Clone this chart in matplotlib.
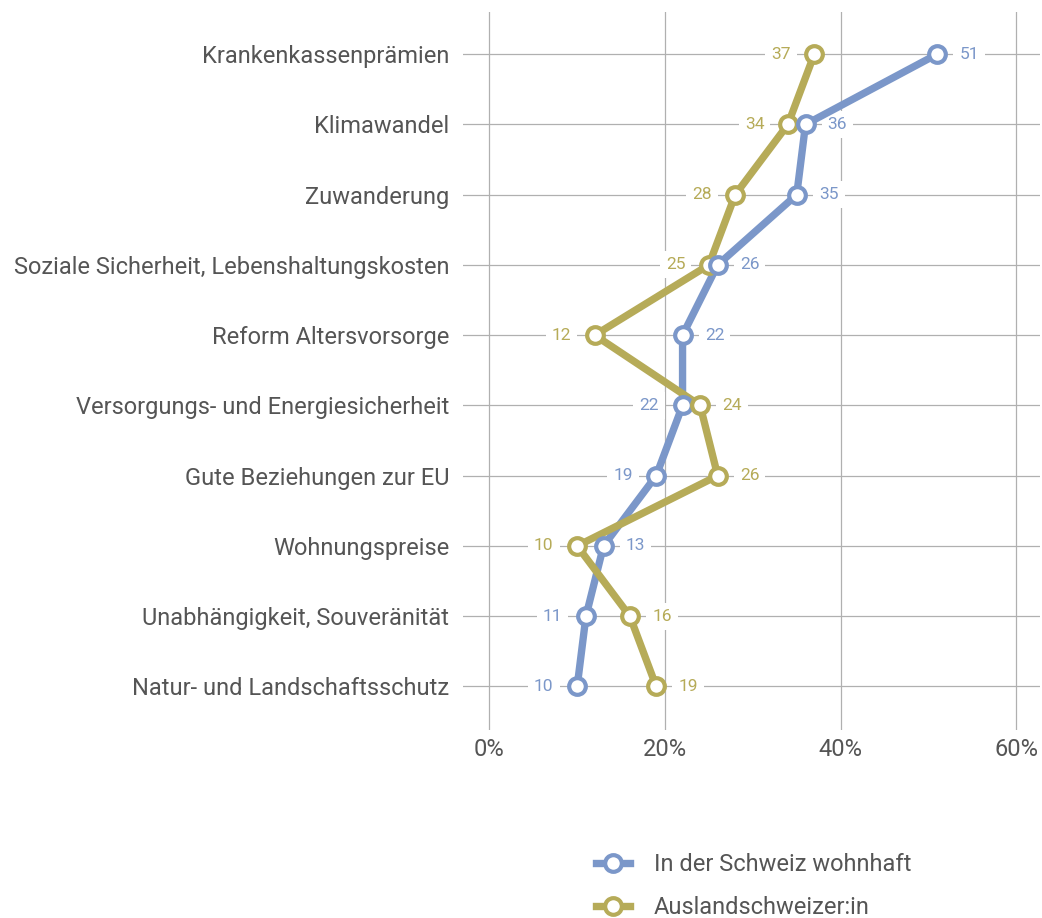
import matplotlib
matplotlib.use("Agg")
import matplotlib.pyplot as plt
from matplotlib.lines import Line2D

plt.rcParams['font.family'] = ['Roboto', 'DejaVu Sans']

categories = [
    "Krankenkassenprämien",
    "Klimawandel",
    "Zuwanderung",
    "Soziale Sicherheit, Lebenshaltungskosten",
    "Reform Altersvorsorge",
    "Versorgungs- und Energiesicherheit",
    "Gute Beziehungen zur EU",
    "Wohnungspreise",
    "Unabhängigkeit, Souveränität",
    "Natur- und Landschaftsschutz",
]
schweiz = [51, 36, 35, 26, 22, 22, 19, 13, 11, 10]
ausland = [37, 34, 28, 25, 12, 24, 26, 10, 16, 19]
series_names = ["In der Schweiz wohnhaft", "Auslandschweizer:in"]
xticks = [0, 20, 40, 60]

blue = '#7b97c9'
olive = '#b6ab58'
text_gray = '#555555'
grid_gray = '#b0b0b0'

fig = plt.figure(figsize=(10.42, 9.18), dpi=100)
ax = fig.add_axes([463 / 1042, 1 - 730 / 918, (1040 - 463) / 1042, (730 - 12) / 918])

n = len(categories)
ypos = list(range(n))
ax.set_ylim(n - 1 + 0.62, -0.6)
ax.set_xlim(-3, 62.7)

# grid
for y in ypos:
    ax.axhline(y, color=grid_gray, lw=0.9, zorder=0)
for x in xticks:
    ax.axvline(x, color=grid_gray, lw=0.9, zorder=0)

lw = 5.3
ms = 12
mew = 3
for vals, col, z in [(schweiz, blue, 2), (ausland, olive, 2.1)]:
    ax.plot(vals, ypos, color=col, lw=lw, solid_capstyle='round', zorder=z)

# markers: larger value of each row on top, small value label left, large right
for i in range(n):
    pair = [(schweiz[i], blue), (ausland[i], olive)]
    pair.sort(key=lambda p: p[0])
    for k, (v, col) in enumerate(pair):
        ax.plot(v, i, 'o', ms=ms, mfc='white', mec=col, mew=mew, zorder=4 + k)
        if k == 0:
            off, ha = -17, 'right'
        else:
            off, ha = 16, 'left'
        ax.annotate(str(v), (v, i), xytext=(off, 0), textcoords='offset points',
                    ha=ha, va='center', fontsize=12.5, color=col,
                    bbox=dict(boxstyle='square,pad=0.35', fc='white', ec='none'),
                    zorder=1)

ax.set_yticks(ypos)
ax.set_yticklabels(categories, fontsize=17, color=text_gray)
ax.set_xticks(xticks)
ax.set_xticklabels([f"{t}%" for t in xticks], fontsize=17, color=text_gray)
ax.tick_params(axis='y', length=0, pad=10)
ax.tick_params(axis='x', length=0, pad=6)
for s in ax.spines.values():
    s.set_visible(False)

handles = [
    Line2D([], [], color=blue, lw=lw, marker='o', ms=ms, mfc='white', mec=blue, mew=mew),
    Line2D([], [], color=olive, lw=lw, marker='o', ms=ms, mfc='white', mec=olive, mew=mew),
]
leg = fig.legend(handles, series_names, loc='upper left', bbox_to_anchor=(596 / 1042, 1 - 853 / 918),
                 frameon=False, fontsize=17, handlelength=1.45, handletextpad=1.0,
                 labelspacing=0.85, borderaxespad=0, borderpad=0)
for t in leg.get_texts():
    t.set_color(text_gray)

fig.savefig('out.png', dpi=100)
